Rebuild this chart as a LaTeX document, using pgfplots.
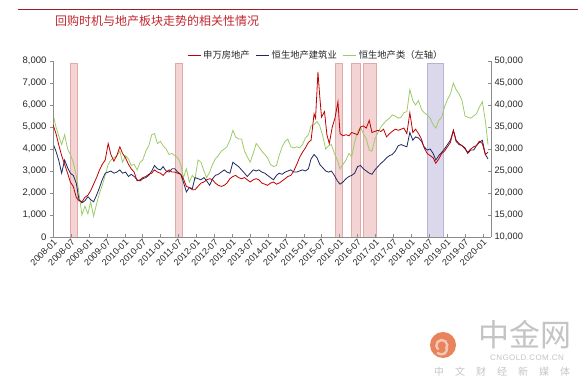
\documentclass[border=0pt]{standalone}
\usepackage{pgfplots}
\pgfplotsset{compat=1.18}
\usepackage{pgfplotstable}
\usepackage{fontspec}
\setmainfont{Liberation Sans}
\newfontfamily\cjk{Noto Sans CJK SC}
\definecolor{redline}{HTML}{C00000}
\definecolor{navyline}{HTML}{1F2860}
\definecolor{greenline}{HTML}{9DCB6A}
\definecolor{bandpink}{HTML}{F3D3D3}
\definecolor{bandpinkedge}{HTML}{E2A9A9}
\definecolor{bandpurple}{HTML}{DCD8EC}
\definecolor{bandpurpleedge}{HTML}{B9B2D6}
\definecolor{axisgray}{HTML}{8C8C8C}
\definecolor{titlered}{HTML}{C0262D}
\definecolor{wmgray}{HTML}{C4C4C4}
\definecolor{wmorange}{HTML}{E8835C}

% 申万房地产 (left axis units)
\pgfplotstableread{
x y
0.0 5100
1.0 4700
1.9 4200
2.9 3700
3.9 3300
4.9 2900
5.8 2500
6.8 2300
7.8 1800
8.7 1650
9.7 1600
10.7 1800
11.7 1900
12.6 2100
13.6 2400
14.6 2700
15.6 3050
16.5 3300
17.5 3500
18.5 4250
19.4 3750
20.4 3450
21.4 3700
22.4 4100
23.3 3800
24.3 3600
25.3 3300
26.2 3100
27.2 2950
28.2 2550
29.2 2600
30.1 2700
31.1 2750
32.1 2850
33.1 2900
34.0 3050
35.0 2950
36.0 2900
36.9 2800
37.9 2950
38.9 3050
39.9 2950
40.8 2950
41.8 2900
42.8 2850
43.7 2650
44.7 2300
45.7 2250
46.7 2150
47.6 2150
48.6 2300
49.6 2450
50.6 2500
51.5 2600
52.5 2650
53.5 2600
54.4 2450
55.4 2350
56.4 2300
57.4 2350
58.3 2450
59.3 2650
60.3 2750
61.2 2800
62.2 2700
63.2 2650
64.2 2700
65.1 2600
66.1 2500
67.1 2600
68.1 2650
69.0 2600
70.0 2450
71.0 2400
71.9 2350
72.9 2450
73.9 2500
74.9 2400
75.8 2450
76.8 2550
77.8 2650
78.7 2750
79.7 2800
80.7 3000
81.7 3300
82.6 3600
83.6 3850
84.6 4050
85.6 4300
86.5 4400
87.5 5600
88.0 5400
88.8 7500
89.4 6400
90.0 5450
91.0 5700
91.8 4650
92.6 4250
93.6 5000
94.5 5400
95.5 6150
96.2 4700
97.2 4600
98.2 4650
99.2 4600
100.1 4750
101.1 4700
102.1 4650
103.1 5000
104.0 5050
105.0 4950
106.0 5300
106.9 4750
107.9 4800
108.9 4850
109.9 4800
110.8 4900
111.8 4550
112.8 4700
113.7 4800
114.7 4900
115.7 4850
116.7 4900
117.6 4950
118.6 4700
119.6 5650
120.6 4750
121.5 4900
122.5 4700
123.5 4450
124.4 4050
125.4 3800
126.4 3700
127.4 3600
128.3 3350
129.3 3550
130.3 3800
131.2 3900
132.2 4100
133.2 4300
134.2 4850
135.1 4400
136.1 4250
137.1 4150
138.1 4000
139.0 3850
140.0 4000
141.0 4100
141.9 4150
142.9 4350
143.9 4250
144.9 3750
145.8 3850
}\redtab

% 恒生地产建筑业 (right axis units)
\pgfplotstableread{
x y
0.0 31250
1.0 29500
1.9 27500
2.9 24500
3.9 27500
4.9 25750
5.8 24500
6.8 24000
7.8 22250
8.7 18500
9.7 17750
10.7 18250
11.7 19150
12.6 18500
13.6 18000
14.6 19500
15.6 21250
16.5 23000
17.5 24500
18.5 24750
19.4 25000
20.4 24500
21.4 24750
22.4 25250
23.3 24500
24.3 24750
25.3 23750
26.2 24250
27.2 23750
28.2 23000
29.2 22750
30.1 23250
31.1 23500
32.1 24000
33.1 25000
34.0 26250
35.0 25500
36.0 25250
36.9 26000
37.9 25000
38.9 24750
39.9 25500
40.8 25500
41.8 24750
42.8 24250
43.7 22500
44.7 20250
45.7 21250
46.7 21000
47.6 23500
48.6 23250
49.6 23000
50.6 23500
51.5 22750
52.5 21750
53.5 23250
54.4 24000
55.4 24250
56.4 24750
57.4 25250
58.3 24750
59.3 24500
60.3 27000
61.2 26500
62.2 26000
63.2 25250
64.2 24500
65.1 23750
66.1 24500
67.1 25250
68.1 25000
69.0 25250
70.0 24750
71.0 24500
71.9 24000
72.9 23500
73.9 23000
74.9 24000
75.8 24500
76.8 24250
77.8 24750
78.7 25000
79.7 25250
80.7 24750
81.7 24750
82.6 25000
83.6 25250
84.6 25000
85.6 25500
86.5 27750
87.5 28750
88.5 28000
89.4 26500
90.4 25750
91.4 25000
92.4 24750
93.3 25000
94.3 24000
95.3 22750
96.2 22000
97.2 22500
98.2 23250
99.2 23750
100.1 24000
101.1 24500
102.1 26000
103.1 26250
104.0 25500
105.0 25000
106.0 24500
106.9 24250
107.9 25250
108.9 26000
109.9 26750
110.8 27250
111.8 28000
112.8 28500
113.7 28750
114.7 29500
115.7 30750
116.7 31000
117.6 30750
118.6 30500
119.6 33750
120.6 32000
121.5 32750
122.5 32500
123.5 31750
124.4 30500
125.4 29750
126.4 30000
127.4 29000
128.3 27500
129.3 28500
130.3 29250
131.2 30000
132.2 31000
133.2 32000
134.2 34250
135.1 31750
136.1 31000
137.1 30750
138.1 30250
139.0 29000
140.0 29750
141.0 29750
141.9 30750
142.9 31500
143.9 32000
144.9 28750
145.8 27750
}\navytab

% 恒生地产类 (right axis units)
\pgfplotstableread{
x y
0.0 38000
1.0 35000
1.9 33000
2.9 31000
3.9 33250
4.9 30000
5.8 28750
6.8 27000
7.8 24000
8.7 20000
9.7 15000
10.7 17000
11.7 15250
12.6 18000
13.6 14750
14.6 17500
15.6 20000
16.5 21750
17.5 24000
18.5 26500
19.4 27500
20.4 28000
21.4 28500
22.4 29500
23.3 27000
24.3 28500
25.3 27750
26.2 26250
27.2 26500
28.2 25250
29.2 27000
30.1 27500
31.1 29500
32.1 30750
33.1 33250
34.0 33500
35.0 31250
36.0 31750
36.9 30750
37.9 30000
38.9 28750
39.9 29000
40.8 28500
41.8 28000
42.8 26500
43.7 23500
44.7 25500
45.7 22500
46.7 24000
47.6 23250
48.6 27500
49.6 27000
50.6 25000
51.5 23500
52.5 24750
53.5 26500
54.4 27750
55.4 28500
56.4 29500
57.4 30000
58.3 30500
59.3 32000
60.3 34250
61.2 32750
62.2 32250
63.2 32250
64.2 29500
65.1 28250
66.1 27000
67.1 29000
68.1 31250
69.0 30500
70.0 29500
71.0 28750
71.9 28000
72.9 26500
73.9 26000
74.9 26250
75.8 28500
76.8 30500
77.8 31750
78.7 32250
79.7 30500
80.7 30250
81.7 30500
82.6 30250
83.6 31000
84.6 32500
85.6 33250
86.5 35250
87.5 35500
88.5 36250
89.4 35250
90.4 33000
91.4 30000
92.4 30750
93.3 31000
94.3 29000
95.3 27500
96.2 25500
97.2 26500
98.2 27500
99.2 29000
100.1 28250
101.1 31500
102.1 34000
103.1 35000
104.0 33500
105.0 32250
106.0 29750
106.9 29500
107.9 32250
108.9 33750
109.9 35000
110.8 35750
111.8 36500
112.8 37000
113.7 37750
114.7 37500
115.7 37000
116.7 37250
117.6 38250
118.6 38500
119.6 43500
120.6 41000
121.5 40000
122.5 41000
123.5 39000
124.4 38250
125.4 37750
126.4 37000
127.4 35500
128.3 34750
129.3 36500
130.3 37250
131.2 39500
132.2 41250
133.2 42500
134.2 45000
135.1 43500
136.1 42500
137.1 41000
138.1 37500
139.0 37250
140.0 37000
141.0 37500
141.9 38000
142.9 39500
143.9 40750
144.9 36500
145.8 31000
}\greentab

\begin{document}
\begin{tikzpicture}
\useasboundingbox (0,0) rectangle (587pt,390pt);
\draw[titlered!80!black, line width=0.8pt] (18pt,381pt) -- (578pt,381pt);
\node[anchor=west, inner sep=0pt, text=titlered, font=\cjk\fontsize{12}{14}\selectfont] at (55pt,369pt) {回购时机与地产板块走势的相关性情况};

% watermark
\fill[wmorange] (443pt,45pt) circle (13pt);
\draw[white!55!wmorange, line width=2.4pt] (446pt,41pt) arc (-40:230:5.5pt);
\draw[white!55!wmorange, line width=2.4pt] (447pt,43pt) .. controls (447pt,36pt) and (443pt,34pt) .. (437pt,37pt);
\node[anchor=west, inner sep=0pt, text=wmgray, font=\cjk\fontsize{31}{33}\selectfont] at (478pt,55pt) {中金网};
\node[inner sep=0pt, text=wmgray, font=\fontsize{8}{9}\selectfont\addfontfeature{LetterSpace=5}] at (527pt,32pt) {CNGOLD.COM.CN};
\node[inner sep=0pt, text=wmgray, font=\cjk\fontsize{10}{12}\selectfont] at (502pt,18pt) {中\hspace{11pt}文\hspace{11pt}财\hspace{11pt}经\hspace{11pt}新\hspace{11pt}媒\hspace{11pt}体};

% right-axis scale: bands, green, navy
\begin{axis}[
  at={(53pt,153pt)}, anchor=south west,
  scale only axis, width=438pt, height=176pt,
  xmin=0, xmax=146.8, ymin=10000, ymax=50000,
  axis x line=none, axis y line=right,
  axis line style={axisgray, -},
  ytick={10000,15000,...,50000},
  scaled y ticks=false,
  yticklabel style={/pgf/number format/1000 sep={,}, font=\fontsize{9.3}{10}\selectfont, text=black!85},
  /pgf/number format/assume math mode=true,
  tick style={axisgray},
  major tick length=3pt,
  tick align=inside,
]
\addplot[fill=bandpink, draw=bandpinkedge, line width=0.5pt, forget plot] coordinates {(5.9,10000) (5.9,49500) (8.0,49500) (8.0,10000)} -- cycle;
\addplot[fill=bandpink, draw=bandpinkedge, line width=0.5pt, forget plot] coordinates {(41.1,10000) (41.1,49500) (43.2,49500) (43.2,10000)} -- cycle;
\addplot[fill=bandpink, draw=bandpinkedge, line width=0.5pt, forget plot] coordinates {(94.5,10000) (94.5,49500) (96.9,49500) (96.9,10000)} -- cycle;
\addplot[fill=bandpink, draw=bandpinkedge, line width=0.5pt, forget plot] coordinates {(99.9,10000) (99.9,49500) (102.9,49500) (102.9,10000)} -- cycle;
\addplot[fill=bandpink, draw=bandpinkedge, line width=0.5pt, forget plot] coordinates {(103.9,10000) (103.9,49500) (108.3,49500) (108.3,10000)} -- cycle;
\addplot[fill=bandpurple, draw=bandpurpleedge, line width=0.5pt, forget plot] coordinates {(125.3,10000) (125.3,49500) (130.7,49500) (130.7,10000)} -- cycle;
\addplot[greenline, line width=0.8pt] table {\greentab};
\addplot[navyline, line width=0.8pt] table {\navytab};
\end{axis}

% left-axis scale: red + legend
\begin{axis}[
  at={(53pt,153pt)}, anchor=south west,
  scale only axis, width=438pt, height=176pt,
  xmin=0, xmax=146.8, ymin=0, ymax=8000,
  axis x line=bottom, axis y line=left,
  axis line style={axisgray, -},
  xtick={0,6,...,144},
  xticklabels={2008-01,2008-07,2009-01,2009-07,2010-01,2010-07,2011-01,2011-07,2012-01,2012-07,2013-01,2013-07,2014-01,2014-07,2015-01,2015-07,2016-01,2016-07,2017-01,2017-07,2018-01,2018-07,2019-01,2019-07,2020-01},
  xticklabel style={rotate=45, anchor=north east, font=\fontsize{9}{10}\selectfont, text=black!85, inner sep=1pt},
  ytick={0,1000,...,8000},
  scaled y ticks=false,
  yticklabel style={/pgf/number format/1000 sep={,}, font=\fontsize{9.5}{10}\selectfont, text=black!85},
  /pgf/number format/assume math mode=true,
  tick style={axisgray},
  major tick length=3pt,
  xtick align=inside, ytick align=outside,
  legend style={at={(0.306,1.0)}, anchor=south west, draw=none, fill=none,
    font=\cjk\fontsize{9.3}{10}\selectfont, text=black!85, inner sep=0pt,
    legend columns=3,
    /tikz/every odd column/.append style={column sep=1pt},
    /tikz/every even column/.append style={column sep=5pt},
    nodes={inner sep=1pt}},
  legend image code/.code={\draw[#1, line width=1pt] (0pt,0pt) -- (13pt,0pt);},
]
\addplot[redline, line width=0.8pt] table {\redtab};
\addlegendentry{申万房地产}
\addlegendimage{navyline}
\addlegendentry{恒生地产建筑业}
\addlegendimage{greenline}
\addlegendentry{恒生地产类（左轴）}
\end{axis}
\end{tikzpicture}
\end{document}
